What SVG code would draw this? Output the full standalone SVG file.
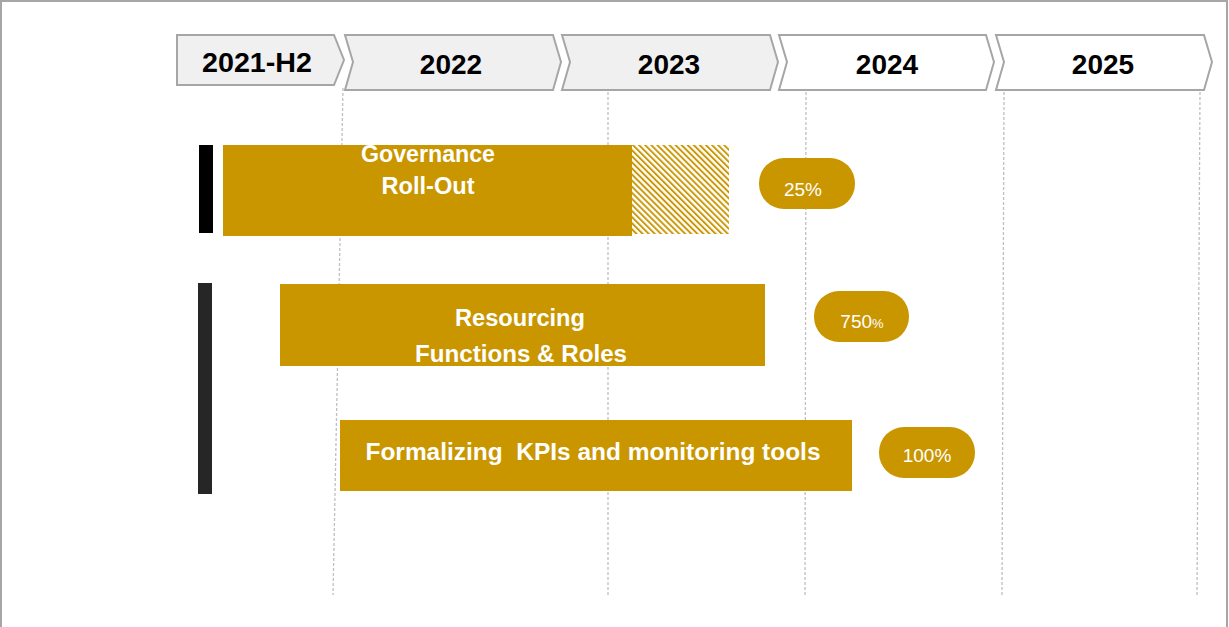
<svg xmlns="http://www.w3.org/2000/svg" width="1229" height="627" viewBox="0 0 1229 627">
<style>
.frame{fill:none;stroke:#a6a6a6;stroke-width:2}
.chev{stroke:#a6a6a6;stroke-width:2;stroke-linejoin:miter}
.grey{fill:#f0f0f0}
.white{fill:#ffffff}
.hd{font-family:"Liberation Sans",Arial,sans-serif;font-weight:bold;font-size:28px;fill:#000;text-anchor:middle}
.grid{stroke:#bfbfbf;stroke-width:1.3;stroke-dasharray:3 2;fill:none}
.bar{fill:#c99600}
.lbl{font-family:"Liberation Sans",Arial,sans-serif;font-weight:bold;font-size:23px;fill:#fff;text-anchor:middle}
.pct{font-family:"Liberation Sans",Arial,sans-serif;font-size:19px;fill:#fff;text-anchor:middle}
</style>
<defs>
<pattern id="hatch" patternUnits="userSpaceOnUse" width="4.3" height="4.3" patternTransform="rotate(-45)">
<line x1="1" y1="0" x2="1" y2="4.3" stroke="#c99600" stroke-width="1.9"/>
</pattern>
</defs>
<rect x="0" y="0" width="1229" height="627" fill="#ffffff"/>
<rect class="frame" x="1" y="1" width="1226" height="632"/>

<g id="grid">
<line class="grid" x1="343" y1="88" x2="333" y2="595"/>
<line class="grid" x1="608" y1="92" x2="608" y2="595"/>
<line class="grid" x1="806" y1="92" x2="805" y2="595"/>
<line class="grid" x1="1004" y1="92" x2="1002" y2="595"/>
<line class="grid" x1="1200" y1="92" x2="1197" y2="595"/>
</g>

<g id="h2021">
<polygon class="chev grey" points="177,35 334,35 344,60 334,85 177,85"/>
<text class="hd" x="257" y="72" textLength="110" lengthAdjust="spacingAndGlyphs">2021-H2</text>
</g>
<g id="y2022">
<polygon class="chev grey" points="345,35 553,35 561,62 553,90 345,90 353,62"/>
<text class="hd" x="451" y="74">2022</text>
</g>
<g id="y2023">
<polygon class="chev grey" points="562,35 770,35 778,62 770,90 562,90 570,62"/>
<text class="hd" x="669" y="74">2023</text>
</g>
<g id="y2024">
<polygon class="chev white" points="779,35 986,35 994,62 986,90 779,90 787,62"/>
<text class="hd" x="887" y="74">2024</text>
</g>
<g id="y2025">
<polygon class="chev white" points="996,35 1204,35 1212,62 1204,90 996,90 1004,62"/>
<text class="hd" x="1103" y="74">2025</text>
</g>

<g id="marker1"><rect x="199" y="145" width="14" height="88" fill="#000"/></g>
<g id="marker2"><rect x="198" y="283" width="14" height="211" fill="#262626"/></g>

<g id="governance">
<rect class="bar" x="223" y="145" width="409" height="91"/>
<rect x="631" y="145" width="98" height="89" fill="url(#hatch)"/>
<text class="lbl" x="428" y="162" textLength="134" lengthAdjust="spacingAndGlyphs">Governance</text>
<text class="lbl" x="428" y="194" textLength="93" lengthAdjust="spacingAndGlyphs">Roll-Out</text>
</g>
<g id="pill25">
<rect class="bar" x="759" y="158" width="96" height="51" rx="25" ry="25"/>
<text class="pct" x="803" y="196">25%</text>
</g>

<g id="resourcing">
<rect class="bar" x="280" y="284" width="485" height="82"/>
<text class="lbl" x="520" y="326" textLength="130" lengthAdjust="spacingAndGlyphs">Resourcing</text>
<text class="lbl" x="521" y="362" textLength="212" lengthAdjust="spacingAndGlyphs">Functions &amp; Roles</text>
</g>
<g id="pill750">
<rect class="bar" x="814" y="291" width="95" height="51" rx="25" ry="25"/>
<text class="pct" x="862" y="328">750<tspan font-size="13px">%</tspan></text>
</g>

<g id="formalizing">
<rect class="bar" x="340" y="420" width="512" height="71"/>
<text class="lbl" x="593" y="460" textLength="455" lengthAdjust="spacingAndGlyphs" xml:space="preserve">Formalizing  KPIs and monitoring tools</text>
</g>
<g id="pill100">
<rect class="bar" x="879" y="427" width="96" height="51" rx="25" ry="25"/>
<text class="pct" x="927" y="462">100%</text>
</g>
</svg>
